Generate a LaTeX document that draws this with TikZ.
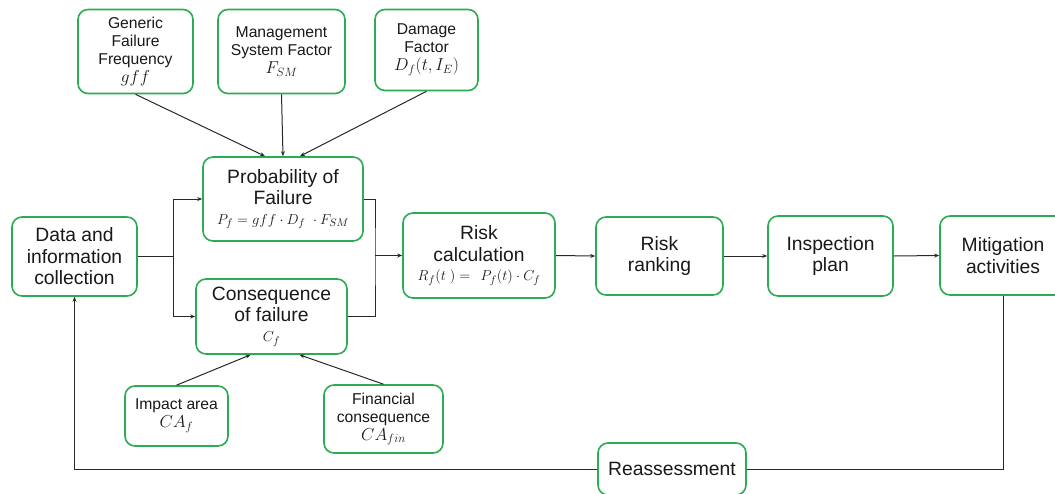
\documentclass[tikz,border=0pt]{standalone}
\usepackage{fontspec}
\setmainfont{Liberation Sans}
\usetikzlibrary{arrows.meta,calc}
\definecolor{boxgreen}{RGB}{44,172,82}
\definecolor{linegray}{RGB}{40,40,40}
\definecolor{txtgray}{RGB}{25,25,25}
\tikzset{
  box/.style={draw=boxgreen, line width=1.6pt, rounded corners=10pt, align=center, inner sep=2pt, fill=white, text=txtgray},
  bigtxt/.style={font=\fontsize{19.3}{21.5}\selectfont},
  smalltxt/.style={font=\fontsize{15.7}{18}\selectfont},
  conn/.style={draw=linegray, line width=1pt},
  arr/.style={conn, -{Stealth[length=5pt,width=4pt]}}
}
\newcommand{\mth}[1]{{\fontsize{15.5}{17}\selectfont$#1$}}
\newcommand{\smth}[1]{{\fontsize{16.5}{18}\selectfont$#1$}}
\begin{document}
\begin{tikzpicture}[x=1pt,y=-1pt]
\useasboundingbox (0,0) rectangle (1055,493);
% top factor boxes
\node[box,smalltxt,minimum width=115pt,minimum height=84pt] (gff) at (135.5,51.5) {Generic\\Failure\\Frequency\\\smth{gff}};
\node[box,smalltxt,minimum width=127pt,minimum height=84pt] (fsm) at (281.5,51.5) {Management\\System Factor\\\smth{F_{SM}}};
\node[box,smalltxt,minimum width=103pt,minimum height=81pt] (dmg) at (426.5,50) {Damage\\Factor\\\smth{D_f(t,I_E)}};
% main boxes
\node[box,bigtxt,minimum width=160pt,minimum height=84pt] (prob) at (283,199) {Probability of\\Failure\\[-2pt]\mth{P_f = gff\cdot D_f\ \cdot F_{SM}}};
\node[box,bigtxt,minimum width=151pt,minimum height=75pt] (cons) at (271.5,316.5) {Consequence\\of failure\\[-2pt]\mth{C_f}};
\node[box,bigtxt,minimum width=152pt,minimum height=85pt] (risk) at (479,255.5) {Risk\\calculation\\[-2pt]\mth{R_f(t\;) =\;\, P_f(t)\cdot C_f}};
\node[box,bigtxt,minimum width=127pt,minimum height=78pt] (rank) at (659.5,256) {Risk\\ranking};
\node[box,bigtxt,minimum width=125pt,minimum height=80pt] (insp) at (830.5,256) {Inspection\\plan};
\node[box,bigtxt,minimum width=126pt,minimum height=79pt] (mit) at (1003,255.5) {Mitigation\\activities};
\node[box,bigtxt,minimum width=125pt,minimum height=79pt] (data) at (74.5,256.5) {Data and\\information\\collection};
% bottom boxes
\node[box,smalltxt,minimum width=103pt,minimum height=60pt] (imp) at (176.5,416) {Impact area\\\smth{CA_f}};
\node[box,smalltxt,minimum width=119pt,minimum height=68pt] (fin) at (383.5,419) {Financial\\consequence\\\smth{CA_{fin}}};
\node[box,bigtxt,minimum width=148pt,minimum height=52pt] (reass) at (672,469) {Reassessment};
% connectors
\draw[arr] (gff.south) -- ([xshift=-18pt]prob.north);
\draw[arr] (fsm.south) -- ([xshift=0pt]prob.north);
\draw[arr] (dmg.south) -- ([xshift=17pt]prob.north);
\draw[arr] (imp.north) -- ([xshift=-21pt]cons.south);
\draw[arr] (fin.north) -- ([xshift=28pt]cons.south);
\coordinate (split) at (173,256.5);
\draw[conn] (data.east) -- (split);
\draw[arr] (split) |- (prob.west);
\draw[arr] (split) |- (cons.west);
\coordinate (join) at (375,255.5);
\draw[conn] (prob.east) -| (join) |- (cons.east);
\draw[arr] (join) -- (risk.west);
\draw[arr] (risk.east) -- (rank.west);
\draw[arr] (rank.east) -- (insp.west);
\draw[arr] (insp.east) -- (mit.west);
\draw[conn] (mit.south) |- (reass.east);
\draw[arr] (reass.west) -| (data.south);
\end{tikzpicture}
\end{document}
